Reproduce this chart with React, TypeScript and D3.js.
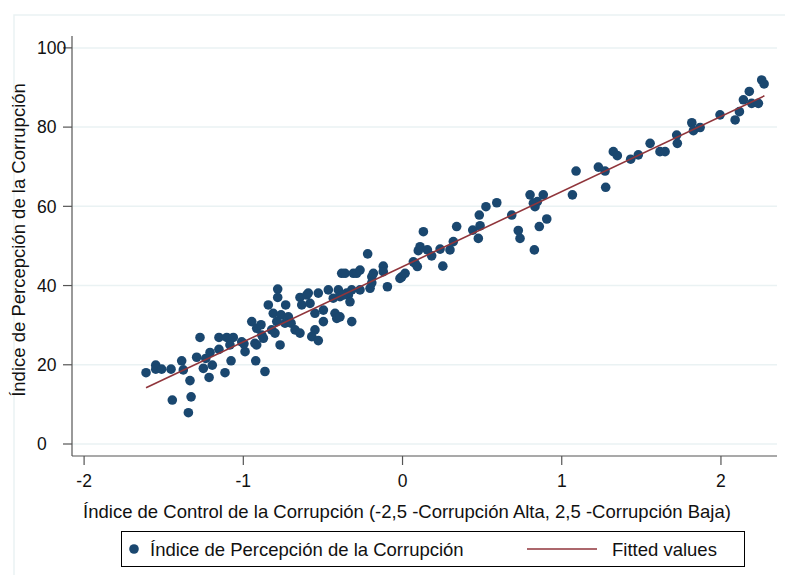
import React from "react";
import * as d3 from "d3";

// Control de la corrupción (x) vs Índice de Percepción (y)
const controlX = [
  -1.611, -1.55, -1.55, -1.513, -1.454, -1.446, -1.387, -1.377, -1.345, -1.335,
  -1.328, -1.293, -1.272, -1.251, -1.236, -1.215, -1.209, -1.195, -1.153, -1.153,
  -1.115, -1.104, -1.063, -1.084, -1.077, -1.01, -0.989, -0.996, -0.927, -0.922,
  -0.947, -0.916, -0.884, -0.864, -0.874, -0.889, -0.843, -0.784, -0.784, -0.812,
  -0.763, -0.717, -0.734, -0.79, -0.738, -0.7, -0.822, -0.675, -0.801, -0.644,
  -0.769, -0.644, -0.592, -0.529, -0.466, -0.403, -0.34, -0.633, -0.581, -0.55,
  -0.497, -0.435, -0.424, -0.413, -0.497, -0.55, -0.57, -0.529, -0.602, -0.382,
  -0.361, -0.309, -0.393, -0.33, -0.319, -0.393, -0.319, -0.351, -0.267, -0.288,
  -0.267, -0.219, -0.204, -0.193, -0.183, -0.193, -0.121, -0.121, -0.095, -0.016,
  -0.005, 0.016, -0.372, 0.068, 0.079, 0.093, 0.099, 0.11, 0.131, 0.156,
  0.183, 0.236, 0.253, 0.298, 0.319, 0.34, 0.441, 0.476, 0.487, 0.482,
  0.524, 0.592, 0.686, 0.727, 0.738, 0.801, 0.822, 0.847, 0.832, 0.828,
  0.859, 0.906, 0.884, 1.067, 1.09, 1.23, 1.272, 1.276, 1.324, 1.349,
  1.433, 1.481, 1.555, 1.617, 1.649, 1.722, 1.726, 1.817, 1.827, 1.869,
  1.994, 2.089, 2.116, 2.141, 2.178, 2.193, 2.235, 2.256, 2.271, -0.916,
];
const percepcionY = [
  18.0, 19.9, 18.9, 18.9, 18.9, 11.1, 21.0, 18.7, 7.9, 16.0,
  11.9, 21.9, 26.9, 19.1, 21.6, 16.8, 23.1, 19.9, 23.9, 26.9,
  18.0, 26.9, 26.9, 25.0, 21.0, 25.8, 23.3, 25.3, 25.4, 21.0,
  30.9, 29.2, 27.5, 18.3, 26.7, 30.1, 35.1, 39.1, 37.0, 33.0,
  32.6, 32.1, 35.1, 30.9, 30.5, 30.5, 28.8, 28.8, 28.0, 28.0,
  25.0, 37.0, 38.1, 38.1, 38.9, 38.9, 37.6, 35.1, 35.5, 33.0,
  33.8, 36.8, 33.0, 31.7, 30.9, 28.8, 27.1, 26.1, 37.6, 43.1,
  43.1, 43.1, 37.2, 35.9, 30.9, 32.1, 38.9, 38.1, 38.9, 43.1,
  43.9, 48.0, 39.3, 42.2, 43.1, 40.7, 44.9, 43.5, 39.7, 41.8,
  42.2, 43.1, 37.6, 46.0, 45.6, 44.8, 48.8, 49.8, 53.6, 49.0,
  47.5, 49.2, 44.9, 49.0, 51.1, 54.9, 54.0, 51.9, 55.1, 57.8,
  59.9, 60.9, 57.8, 53.9, 51.9, 62.9, 60.8, 61.2, 59.9, 49.0,
  54.9, 56.8, 62.9, 62.9, 68.9, 69.9, 68.9, 64.8, 73.8, 72.8,
  71.9, 73.0, 75.9, 73.8, 73.8, 78.0, 75.9, 81.1, 79.1, 79.9,
  83.1, 81.8, 83.9, 86.9, 89.0, 86.0, 86.0, 91.9, 90.9, 25.0,
];

// recta ajustada (extremos)
const fittedX = [-1.611, 2.273];
const fittedY = [14.2, 87.9];

const xTicks = [-2, -1, 0, 1, 2];
const yTicks = [0, 20, 40, 60, 80, 100];

const navy = "#1a476f";
const maroon = "#90353b";
const grid = "#eaf2f3";
const font = "'Liberation Sans', Arial, sans-serif";

export default function App() {
  const width = 785;
  const height = 575;
  const left = 72, right = 777, top = 36, bottom = 456;

  const x = d3.scaleLinear().domain([-2.076, 2.352]).range([left, right]);
  const y = d3.scaleLinear().domain([-3.03, 103.0]).range([bottom, top]);

  const points = controlX.map((v, i) => ({ x: v, y: percepcionY[i] }));
  const fitted = fittedX.map((v, i) => [v, fittedY[i]] as [number, number]);
  const line = d3.line<[number, number]>().x(d => x(d[0])).y(d => y(d[1]));

  return (
    <svg width={width} height={height}
      style={{ position: "absolute", left: 0, top: 0, background: "#fff" }}
      fontFamily={font}>
      <rect x={14} y={15} width={800} height={600} fill="none" stroke={grid} strokeWidth={1.5} />

      {yTicks.map(t => (
        <line key={"g" + t} x1={left} x2={right} y1={y(t)} y2={y(t)} stroke={grid} strokeWidth={1.5} />
      ))}

      {/* axes */}
      <line x1={left} x2={left} y1={top} y2={bottom} stroke="#555" strokeWidth={1.2} />
      <line x1={left} x2={right} y1={bottom} y2={bottom} stroke="#555" strokeWidth={1.2} />

      {yTicks.map(t => (
        <g key={"y" + t}>
          <line x1={left - 9} x2={left} y1={y(t)} y2={y(t)} stroke="#555" strokeWidth={1.2} />
          <text x={37} y={y(t)} dy="0.36em" fontSize={17.5} fill="#111">{t}</text>
        </g>
      ))}
      {xTicks.map(t => (
        <g key={"x" + t}>
          <line x1={x(t)} x2={x(t)} y1={bottom} y2={bottom + 9} stroke="#555" strokeWidth={1.2} />
          <text x={x(t)} y={487} textAnchor="middle" fontSize={17.5} fill="#111">{t}</text>
        </g>
      ))}

      {points.map((p, i) => (
        <circle key={i} cx={x(p.x)} cy={y(p.y)} r={4.8} fill={navy} />
      ))}

      <path d={line(fitted) || ""} fill="none" stroke={maroon} strokeWidth={1.6} />

      <text x={407} y={518} textAnchor="middle" fontSize={18.5} fill="#111">
        Índice de Control de la Corrupción (-2,5 -Corrupción Alta, 2,5 -Corrupción Baja)
      </text>
      <text transform="translate(25,240) rotate(-90)" textAnchor="middle" fontSize={18.5} fill="#111">
        Índice de Percepción de la Corrupción
      </text>

      {/* legend */}
      <rect x={121.5} y={531.5} width={623} height={35} fill="#fff" stroke="#000" strokeWidth={1} />
      <circle cx={134} cy={549} r={4.8} fill={navy} />
      <text x={150} y={556} fontSize={18.5} fill="#111">Índice de Percepción de la Corrupción</text>
      <line x1={527} x2={597} y1={549} y2={549} stroke={maroon} strokeWidth={1.6} />
      <text x={612} y={556} fontSize={18.5} fill="#111">Fitted values</text>
    </svg>
  );
}
